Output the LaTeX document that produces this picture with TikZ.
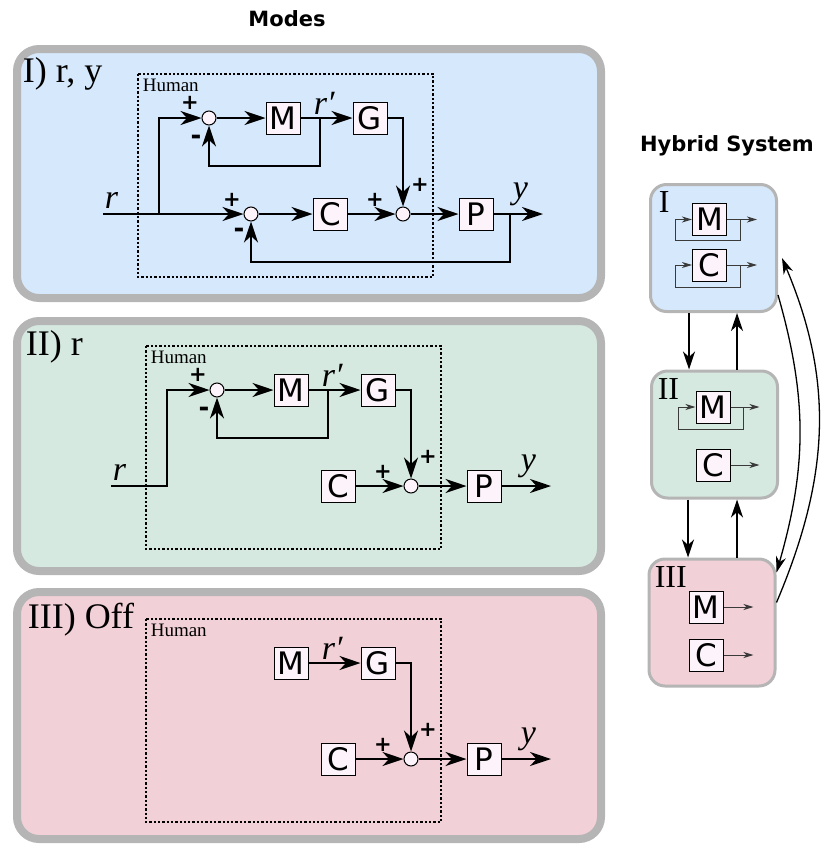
\documentclass[tikz,border=0pt]{standalone}
\usepackage{fontspec}
\setmainfont{Liberation Serif}
\setsansfont{DejaVu Sans}
\usepackage{tikz}
\usetikzlibrary{arrows.meta, positioning}
\definecolor{modeBlue}{HTML}{D6E8FB}
\definecolor{modeGreen}{HTML}{D6E9E0}
\definecolor{modePink}{HTML}{F2D0D7}
\definecolor{frameGray}{HTML}{B5B5B5}
\definecolor{blockFill}{HTML}{FDF3FB}
\definecolor{loopGray}{HTML}{3A3A3A}
\newcommand{\sizept}[1]{\fontsize{#1}{#1}\selectfont}

\begin{document}
\begin{tikzpicture}[x=1pt, y=-1pt, line width=1.6pt,
  >={Stealth[length=21pt, width=14pt, inset=6.5pt]},
  blk/.style={draw, line width=1pt, fill=blockFill, minimum width=34pt, minimum height=32pt, inner sep=0pt, font=\sffamily\sizept{31}},
  sumnode/.style={circle, draw, line width=1pt, fill=blockFill, minimum size=14pt, inner sep=0pt},
  psgn/.style={font=\sffamily\bfseries\sizept{21}, inner sep=0pt},
  msgn/.style={font=\sffamily\bfseries\sizept{26}, inner sep=0pt},
  sig/.style={font=\itshape\sizept{34}, inner sep=0pt, anchor=base west},
  modetitle/.style={font=\sizept{36}, inner sep=0pt, anchor=base west},
  humantxt/.style={font=\sizept{19}, inner sep=0pt, anchor=base west},
  panel/.style={draw=frameGray, line width=8pt, rounded corners=22pt},
  human/.style={line width=2.3pt, dash pattern=on 2.3pt off 2pt},
  hbox/.style={draw=frameGray, line width=3pt, rounded corners=16pt, minimum width=126pt, minimum height=127pt},
  hlabel/.style={font=\sizept{32}, inner sep=0pt, anchor=base west},
  sarrow/.style={-{Stealth[length=10pt, width=6pt, inset=3pt]}, line width=1pt, draw=loopGray},
  harrow/.style={-{Stealth[length=18pt, width=12pt, inset=5.5pt]}, line width=1.5pt},
  curvearrow/.style={-{Stealth[length=16pt, width=10pt, inset=5pt]}, line width=1.3pt}]
  \useasboundingbox (0,0) rectangle (822,846);

  \node[font=\sffamily\bfseries\sizept{21}] (modes) at (287,19) {Modes};
  \node[font=\sffamily\bfseries\sizept{21}] (hybrid) at (727,146) {Hybrid System};

  % Mode I: r, y
  \draw[panel, fill=modeBlue] (17,49) rectangle (601,298);
  \node[modetitle] (t1) at (22,82) {I) r, y};
  \draw[human] (138,74) rectangle (433,277);
  \node[humantxt] (h1) at (142,91) {Human};
  \node[sumnode] (sa1) at (209,118) {};
  \node[blk] (m1) at (283,118) {M};
  \node[blk] (g1) at (370,118) {G};
  \node[sumnode] (sb1) at (251,214) {};
  \node[blk] (c1) at (330,214) {C};
  \node[sumnode] (sc1) at (403,214) {};
  \node[blk] (p1) at (476,214) {P};
  \coordinate (rin1) at (103,214);
  \coordinate (br1) at (159,214);
  \coordinate (fm1) at (320,118);
  \coordinate (fp1) at (510,214);
  \coordinate (yout1) at (543,214);
  \draw[->] (rin1) -- (sb1);
  \draw[->] (br1) |- (sa1);
  \draw[->] (sa1) -- (m1);
  \draw[->] (m1) -- (g1);
  \draw[->] (fm1) -- ++(0,48) -| (sa1);
  \draw[->] (g1) -| (sc1);
  \draw[->] (sb1) -- (c1);
  \draw[->] (c1) -- (sc1);
  \draw[->] (sc1) -- (p1);
  \draw[->] (p1) -- (yout1);
  \draw[->] (fp1) -- ++(0,48) -| (sb1);
  \node[psgn] at ([shift={(-19,-15)}]sa1) {+};
  \node[msgn] at ([shift={(-13,22)}]sa1) {-};
  \node[psgn] at ([shift={(-19,-14)}]sb1) {+};
  \node[msgn] at ([shift={(-12,19)}]sb1) {-};
  \node[psgn] at ([shift={(-28,-14)}]sc1) {+};
  \node[psgn] at ([shift={(17,-29)}]sc1) {+};
  \node[sig] (r1) at (104,208) {r};
  \node[sig] (y1) at (512,198) {y};
  \node[sig] (rp1) at (313,114) {r′};

  % Mode II: r
  \draw[panel, fill=modeGreen] (17,321) rectangle (601,571);
  \node[modetitle] (t2) at (25,355) {II) r};
  \draw[human] (146,346) rectangle (441,549);
  \node[humantxt] (h2) at (150,363) {Human};
  \node[sumnode] (sa2) at (217,390) {};
  \node[blk] (m2) at (291,390) {M};
  \node[blk] (g2) at (378,390) {G};
  \node[blk] (c2) at (338,486) {C};
  \node[sumnode] (sc2) at (411,486) {};
  \node[blk] (p2) at (484,486) {P};
  \coordinate (rin2) at (111,486);
  \coordinate (br2) at (167,486);
  \coordinate (fm2) at (328,390);
  \coordinate (yout2) at (551,486);
  \draw[->] (rin2) -- (br2) |- (sa2);
  \draw[->] (sa2) -- (m2);
  \draw[->] (m2) -- (g2);
  \draw[->] (fm2) -- ++(0,48) -| (sa2);
  \draw[->] (g2) -| (sc2);
  \draw[->] (c2) -- (sc2);
  \draw[->] (sc2) -- (p2);
  \draw[->] (p2) -- (yout2);
  \node[psgn] at ([shift={(-19,-15)}]sa2) {+};
  \node[msgn] at ([shift={(-13,22)}]sa2) {-};
  \node[psgn] at ([shift={(-28,-14)}]sc2) {+};
  \node[psgn] at ([shift={(17,-29)}]sc2) {+};
  \node[sig] (r2) at (112,480) {r};
  \node[sig] (y2) at (520,470) {y};
  \node[sig] (rp2) at (321,386) {r′};

  % Mode III: off
  \draw[panel, fill=modePink] (17,592) rectangle (601,839);
  \node[modetitle] (t3) at (27,628) {III) Off};
  \draw[human] (146,619) rectangle (441,822);
  \node[humantxt] (h3) at (150,636) {Human};
  \node[blk] (m3) at (291,663) {M};
  \node[blk] (g3) at (378,663) {G};
  \node[blk] (c3) at (338,759) {C};
  \node[sumnode] (sc3) at (411,759) {};
  \node[blk] (p3) at (484,759) {P};
  \coordinate (yout3) at (551,759);
  \draw[->] (m3) -- (g3);
  \draw[->] (g3) -| (sc3);
  \draw[->] (c3) -- (sc3);
  \draw[->] (sc3) -- (p3);
  \draw[->] (p3) -- (yout3);
  \node[psgn] at ([shift={(-28,-14)}]sc3) {+};
  \node[psgn] at ([shift={(17,-29)}]sc3) {+};
  \node[sig] (rp3) at (321,659) {r′};
  \node[sig] (y3) at (520,743) {y};

  % Hybrid system
  \node[hbox, fill=modeBlue] (hI) at (713.5,248) {};
  \node[hbox, fill=modeGreen] (hII) at (714.5,434.5) {};
  \node[hbox, fill=modePink] (hIII) at (712,622.5) {};
  \node[hlabel] at (658,212) {I};
  \node[hlabel] at (657,399) {II};
  \node[hlabel] at (654,587) {III};

  \node[blk] (hm1) at (709.5,219.5) {M};
  \node[blk] (hc1) at (709.5,265) {C};
  \node[blk] (hm2) at (713,407) {M};
  \node[blk] (hc2) at (713,465) {C};
  \node[blk] (hm3) at (706,607) {M};
  \node[blk] (hc3) at (706,655) {C};

  \draw[sarrow] ([xshift=13pt]hm1.east) -- ++(0,21) -| ([xshift=-17pt]hm1.west) -- (hm1);
  \draw[sarrow] ([xshift=13pt]hc1.east) -- ++(0,22) -| ([xshift=-17pt]hc1.west) -- (hc1);
  \draw[sarrow] ([xshift=13pt]hm2.east) -- ++(0,22) -| ([xshift=-17pt]hm2.west) -- (hm2);
  \draw[sarrow] (hm1.east) -- ++(30,0);
  \draw[sarrow] (hc1.east) -- ++(30,0);
  \draw[sarrow] (hm2.east) -- ++(29,0);
  \draw[sarrow] (hc2.east) -- ++(29,0);
  \draw[sarrow] (hm3.east) -- ++(30,0);
  \draw[sarrow] (hc3.east) -- ++(30,0);

  \draw[harrow] ([xshift=-24.5pt]hI.south) -- ([xshift=-25.5pt]hII.north);
  \draw[harrow] ([xshift=22.5pt]hII.north) -- ([xshift=23.5pt]hI.south);
  \draw[harrow] ([xshift=-26.5pt]hII.south) -- ([xshift=-24pt]hIII.north);
  \draw[harrow] ([xshift=25pt]hIII.north) -- ([xshift=22.5pt]hII.south);
  \draw[curvearrow] ([yshift=-47pt]hI.east) to[out=-74, in=74] ([yshift=50pt]hIII.east);
  \draw[curvearrow] ([yshift=20pt]hIII.east) to[out=67, in=-67] ([xshift=4pt, yshift=-10pt]hI.east);
\end{tikzpicture}
\end{document}
